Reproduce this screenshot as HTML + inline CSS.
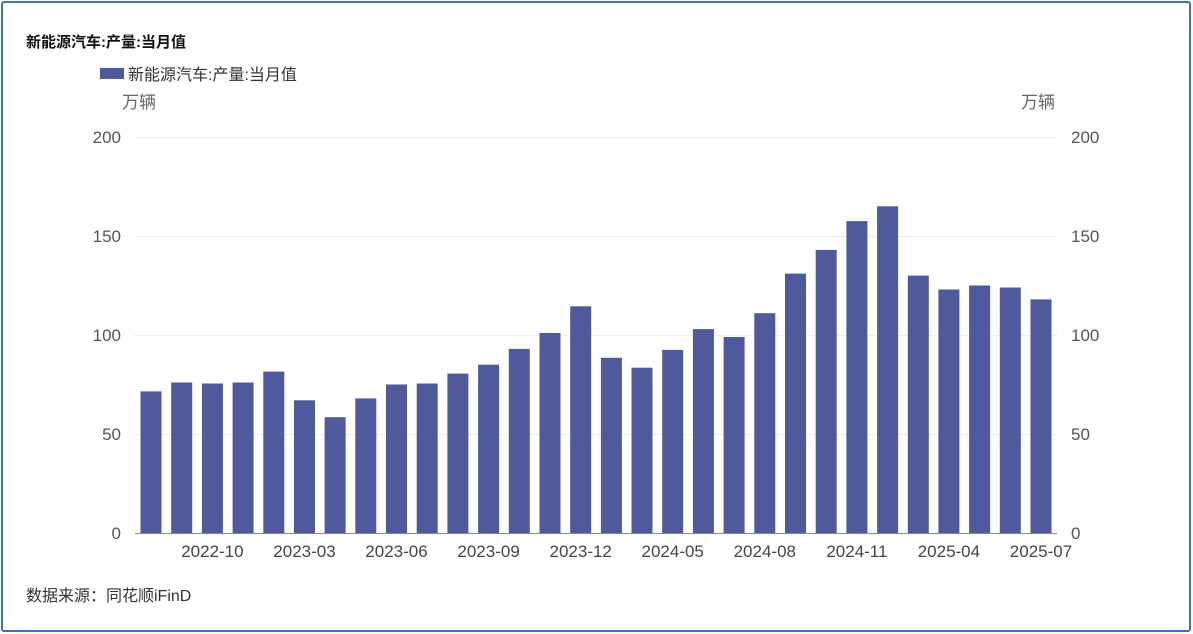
<!DOCTYPE html>
<html><head><meta charset="utf-8"><style>
body{margin:0;background:#fff;}
.f{position:absolute;left:1px;top:1px;width:1190px;height:631px;border:2px solid #3a72c6;border-radius:3px;box-sizing:border-box;}
svg{position:absolute;left:0;top:0;}
text{font-family:"Liberation Sans","Noto Sans CJK SC",sans-serif;}
</style></head><body>
<div class="f"></div>
<svg width="1193" height="634" viewBox="0 0 1193 634">
<text x="26" y="47" font-size="15" font-weight="bold" fill="#111">新能源汽车:产量:当月值</text>
<rect x="100" y="68" width="24" height="11" fill="#4e5a9b"/>
<text x="128" y="80" font-size="16" fill="#333">新能源汽车:产量:当月值</text>
<text x="122" y="108" font-size="17" fill="#666">万辆</text>
<text x="1021" y="108" font-size="17" fill="#666">万辆</text>
<g stroke="#eef0f4" stroke-width="1">
<line x1="135" y1="137.5" x2="1057" y2="137.5"/>
<line x1="135" y1="236.5" x2="1057" y2="236.5"/>
<line x1="135" y1="335.5" x2="1057" y2="335.5"/>
<line x1="135" y1="434.5" x2="1057" y2="434.5"/>
</g>
<g font-size="17" fill="#555" text-anchor="end">
<text x="121" y="143">200</text><text x="121" y="242">150</text><text x="121" y="341">100</text><text x="121" y="440">50</text><text x="121" y="539">0</text>
</g>
<g font-size="17" fill="#555" text-anchor="start">
<text x="1071" y="143">200</text><text x="1071" y="242">150</text><text x="1071" y="341">100</text><text x="1071" y="440">50</text><text x="1071" y="539">0</text>
</g>
<g id="bars" fill="#4e5a9b"></g>
<line x1="135" y1="533.5" x2="1057" y2="533.5" stroke="#888" stroke-width="1"/>
<g font-size="17" fill="#444" text-anchor="middle" id="xl"></g>
<text x="26" y="601" font-size="16" fill="#333">数据来源：同花顺iFinD</text>
</svg>
<script>
var v=[71.5,76,75.5,76,81.5,67,58.5,68,75,75.5,80.5,85,93,101,114.5,88.5,83.5,92.5,103,99,111,131,143,157.5,165,130,123,125,124,118];
var g=document.getElementById('bars'),s='';
v.forEach(function(d,i){var c=151+i*30.69,h=d*1.98;s+='<rect x="'+(c-10.5).toFixed(1)+'" y="'+(533-h).toFixed(1)+'" width="21" height="'+h.toFixed(1)+'"/>';});
g.innerHTML=s;
var L=['2022-10','2023-03','2023-06','2023-09','2023-12','2024-05','2024-08','2024-11','2025-04','2025-07'],t='';
L.forEach(function(l,k){var c=151+(2+3*k)*30.69;t+='<text x="'+c.toFixed(1)+'" y="557">'+l+'</text>';});
document.getElementById('xl').innerHTML=t;
</script>
</body></html>
